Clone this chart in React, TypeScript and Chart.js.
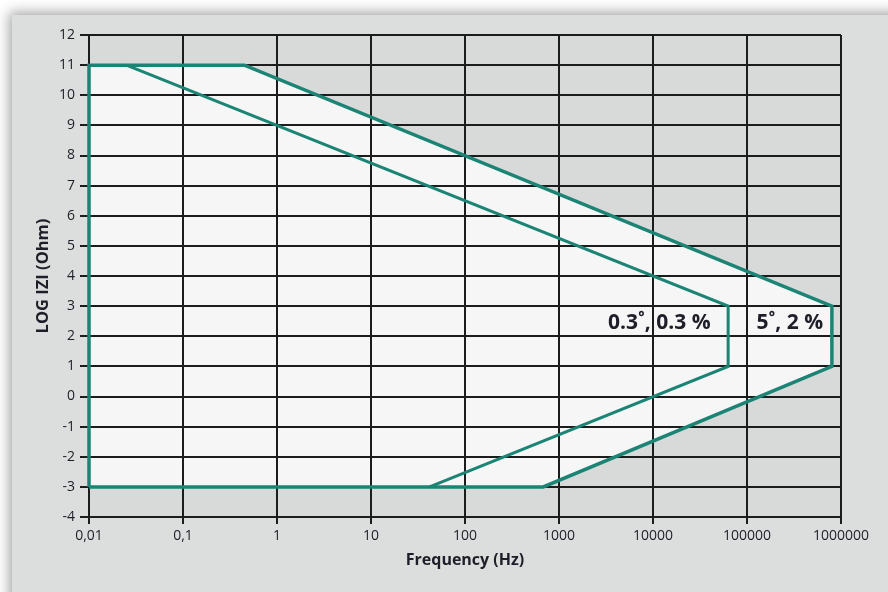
import { useEffect, useRef } from 'react';
import { Chart, registerables } from 'chart.js';

// Frequency axis (Hz), decade ticks and their printed labels
const frequencyTicks = [0.01, 0.1, 1, 10, 100, 1000, 10000, 100000, 1000000];
const frequencyTickLabels = ['0,01', '0,1', '1', '10', '100', '1000', '10000', '100000', '1000000'];

// LOG |Z| axis range
const logZMin = -4;
const logZMax = 12;

// Outer envelope: 5˚, 2 % accuracy region (closed polygon)
const outerFreq = [0.01, 0.01, 0.45, 800000, 800000, 680, 0.01];
const outerLogZ = [-3, 11, 11, 3, 1, -3, -3];

// Inner boundary: 0.3˚, 0.3 % accuracy region
const innerFreq = [0.025, 63000, 63000, 42];
const innerLogZ = [11, 3, 1, -3];

// Accuracy labels, anchored by their right edge
const accuracyLabels = ['0.3˚, 0.3 %', '5˚, 2 %'];
const accuracyLabelFreq = [41000, 645000];
const accuracyLabelLogZ = [2.45, 2.45];

const TEAL = '#1b8474';
const GRID = '#1c1c1c';
const TEXT = '#1e1e28';
const FONT = "'Open Sans', 'DejaVu Sans', sans-serif";

const toPoints = (xs: number[], ys: number[]) => xs.map((x, i) => ({ x, y: ys[i] }));

// Grey plot-area background, painted before the filler plugin runs
const plotAreaBackground = {
  id: 'plotAreaBackground',
  beforeDraw(chart: any) {
    const { ctx, chartArea } = chart;
    if (!chartArea) return;
    ctx.save();
    ctx.fillStyle = '#d8d9d9';
    ctx.fillRect(chartArea.left, chartArea.top, chartArea.right - chartArea.left, chartArea.bottom - chartArea.top);
    ctx.restore();
  },
};

Chart.register(plotAreaBackground);
Chart.register(...registerables);

const accuracyText = {
  id: 'accuracyText',
  afterDatasetsDraw(chart: any) {
    const { ctx, scales } = chart;
    ctx.save();
    ctx.font = `bold 21px ${FONT}`;
    ctx.fillStyle = TEXT;
    ctx.textAlign = 'right';
    ctx.textBaseline = 'middle';
    accuracyLabels.forEach((t, i) => {
      ctx.fillText(t, scales.x.getPixelForValue(accuracyLabelFreq[i]), scales.y.getPixelForValue(accuracyLabelLogZ[i]));
    });
    ctx.restore();
  },
};

export default function App() {
  const canvasRef = useRef<HTMLCanvasElement | null>(null);

  useEffect(() => {
    const canvas = canvasRef.current;
    if (!canvas) return;
    const chart = new Chart(canvas, {
      type: 'line',
      data: {
        datasets: [
          {
            label: '0.3˚, 0.3 %',
            data: toPoints(innerFreq, innerLogZ),
            borderColor: TEAL,
            borderWidth: 3,
            pointRadius: 0,
            fill: false,
            tension: 0,
            clip: 6,
          },
          {
            label: '5˚, 2 %',
            data: toPoints(outerFreq, outerLogZ),
            borderColor: TEAL,
            backgroundColor: '#f6f6f6',
            borderWidth: 3.5,
            pointRadius: 0,
            fill: 'shape',
            tension: 0,
            clip: 6,
          },
        ],
      },
      options: {
        animation: false,
        responsive: false,
        layout: { padding: { left: 0, right: 47, top: 35, bottom: 0 } },
        plugins: {
          legend: { display: false },
          tooltip: { enabled: false },
          filler: { drawTime: 'beforeDraw' },
        } as any,
        scales: {
          x: {
            type: 'logarithmic',
            min: frequencyTicks[0],
            max: frequencyTicks[frequencyTicks.length - 1],
            afterBuildTicks: (s: any) => {
              s.ticks = frequencyTicks.map((v) => ({ value: v }));
            },
            afterFit: (s: any) => {
              s.height = 75;
            },
            grid: { color: GRID, lineWidth: 2, tickLength: 7 },
            border: { color: GRID, width: 2 },
            ticks: {
              autoSkip: false,
              maxRotation: 0,
              padding: 4,
              color: TEXT,
              font: { family: FONT, size: 14 },
              callback: (v: any) => frequencyTickLabels[frequencyTicks.indexOf(Number(v))] ?? '',
            },
            title: {
              display: true,
              text: 'Frequency (Hz)',
              color: TEXT,
              font: { family: FONT, size: 16, weight: 'bold' },
              padding: { top: 0, bottom: 22 },
            },
          },
          y: {
            type: 'linear',
            min: logZMin,
            max: logZMax,
            afterFit: (s: any) => {
              s.width = 89;
            },
            grid: { color: GRID, lineWidth: 2, tickLength: 9 },
            border: { color: GRID, width: 2 },
            ticks: {
              stepSize: 1,
              padding: 5,
              color: TEXT,
              font: { family: FONT, size: 14 },
            },
            title: {
              display: true,
              text: 'LOG IZI (Ohm)',
              color: TEXT,
              font: { family: FONT, size: 16.5, weight: 'bold' },
              padding: { top: 33, bottom: 0 },
            },
          },
        },
      } as any,
      plugins: [accuracyText],
    });
    return () => chart.destroy();
  }, []);

  return (
    <div style={{ position: 'fixed', left: 0, top: 0, width: 888, height: 592, background: '#ffffff', overflow: 'hidden' }}>
      <div
        style={{
          position: 'absolute',
          left: 12,
          top: 15,
          width: 920,
          height: 620,
          background: '#dcdedd',
          boxShadow: '0 0 12px 3px rgba(0,0,0,0.35)',
        }}
      />
      <canvas ref={canvasRef} width={888} height={592} style={{ position: 'absolute', left: 0, top: 0 }} />
    </div>
  );
}
